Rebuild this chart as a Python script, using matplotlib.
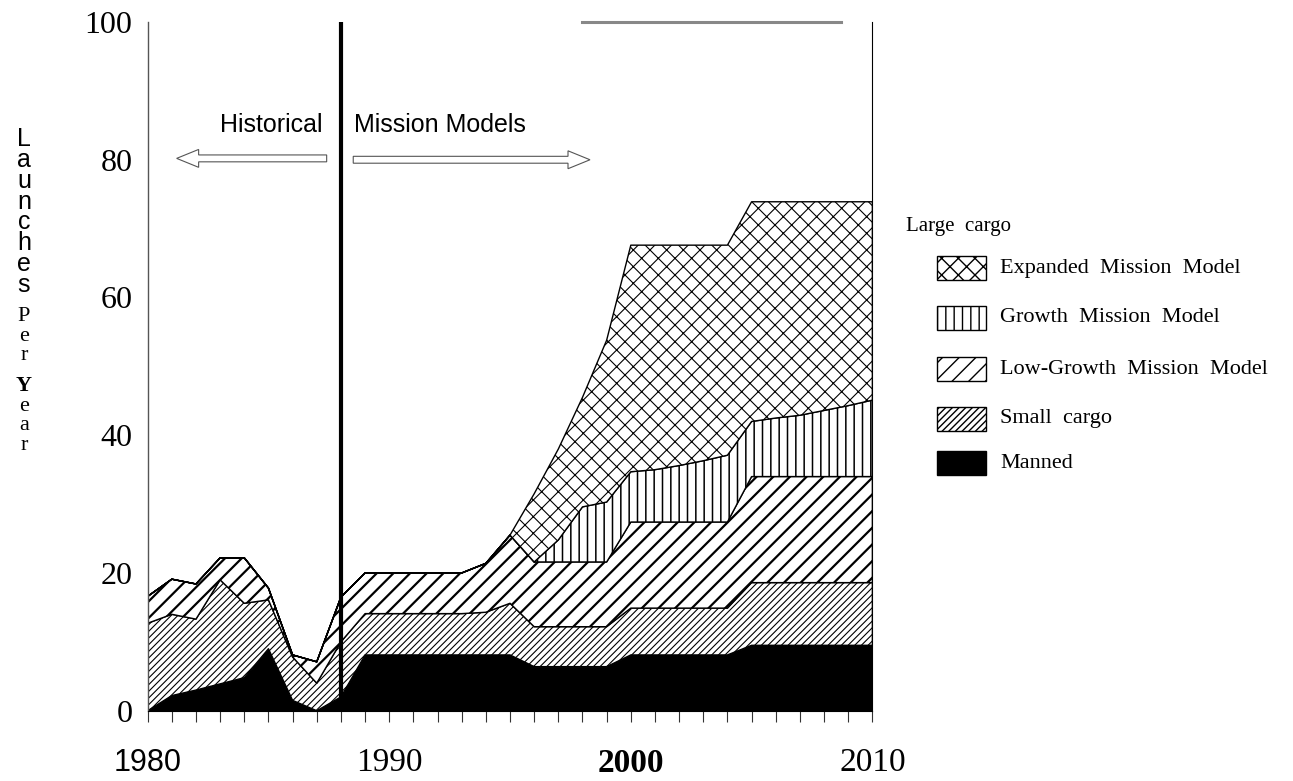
import numpy as np
import matplotlib.pyplot as plt
from matplotlib.patches import Rectangle, FancyArrow

plt.rcParams["mathtext.fontset"] = "custom"
plt.rcParams["mathtext.rm"] = "Liberation Serif"
plt.rcParams["mathtext.bf"] = "Liberation Serif:bold"

# Данные (запуски в год по категориям, значения слоёв)
years = np.arange(1980, 2011)
manned = [0.0, 2.2, 3.0, 3.9, 4.8, 9.0, 1.5, 0.0, 2.0, 8.1,
          8.1, 8.1, 8.1, 8.1, 8.1, 8.1, 6.4, 6.4, 6.4, 6.4,
          8.1, 8.1, 8.1, 8.1, 8.1, 9.5, 9.5, 9.5, 9.5, 9.5, 9.5]
small_cargo = [12.7, 11.8, 10.3, 15.1, 10.8, 7.1, 6.3, 4.0, 8.0, 6.0,
               6.0, 6.0, 6.0, 6.0, 6.2, 7.5, 5.8, 5.8, 5.8, 5.8,
               6.8, 6.8, 6.8, 6.8, 6.8, 9.1, 9.1, 9.1, 9.1, 9.1, 9.1]
low_growth = [3.9, 5.1, 5.1, 3.2, 6.6, 1.7, 0.3, 3.1, 6.5, 5.9,
              5.9, 5.9, 5.9, 5.9, 7.1, 9.9, 9.4, 9.4, 9.4, 9.4,
              12.5, 12.5, 12.5, 12.5, 12.5, 15.4, 15.4, 15.4, 15.4, 15.4, 15.4]
growth = [0.0, 0.0, 0.0, 0.0, 0.0, 0.0, 0.0, 0.0, 0.0, 0.0,
          0.0, 0.0, 0.0, 0.0, 0.0, 0.0, 0.0, 3.2, 8.0, 8.7,
          7.3, 7.6, 8.2, 8.9, 9.7, 8.0, 8.5, 8.9, 9.6, 10.3, 11.1]
expanded = [0.0, 0.0, 0.0, 0.0, 0.0, 0.0, 0.0, 0.0, 0.0, 0.0,
            0.0, 0.0, 0.0, 0.0, 0.0, 0.0, 9.9, 13.2, 15.9, 23.5,
            32.9, 32.6, 32.0, 31.3, 30.5, 31.9, 31.4, 31.0, 30.3, 29.6, 28.8]

year_labels = ["1980", "1990", "2000", "2010"]
y_ticks = [0, 20, 40, 60, 80, 100]

legend_title = "Large  cargo"
legend_labels = ["Expanded  Mission  Model", "Growth  Mission  Model",
                 "Low-Growth  Mission  Model", "Small  cargo", "Manned"]

series = [manned, small_cargo, low_growth, growth, expanded]
hatches = [None, "/////", "//", "||", "xx"]
faces = ["black", "white", "white", "white", "white"]
hatch_lw = [1.0, 0.8, 1.6, 1.1, 0.8]

fig = plt.figure(figsize=(12.93, 7.81), dpi=100)
ax = fig.add_axes([0.1142, 0.0900, 0.5605, 0.8818])

polys = ax.stackplot(years, *series, colors=faces, hatch=hatches,
                     edgecolor="black", linewidth=1.0)
for p, lw in zip(polys, hatch_lw):
    if hasattr(p, "set_hatch_linewidth"):
        p.set_hatch_linewidth(lw)

ax.set_xlim(1980, 2010)
ax.set_ylim(0, 100)

# граница исторических данных
ax.axvline(1988, color="black", lw=3)

# оси
ax.spines["top"].set_visible(False)
ax.spines["left"].set_color("#555555")
ax.spines["left"].set_linewidth(1.0)
ax.spines["right"].set_color("black")
ax.spines["right"].set_linewidth(0.8)
ax.plot([1998.0, 2008.7], [100, 100], color="#888888", lw=2.2, clip_on=False)

ax.set_xticks(years)
ax.set_xticklabels([])
ax.tick_params(axis="x", direction="out", length=8, width=0.8, color="#333333")
ax.set_yticks(y_ticks)
ax.set_yticklabels([str(v) for v in y_ticks], family="Liberation Serif", fontsize=23)
ax.tick_params(axis="y", length=0, pad=11)

# подписи годов
label_fonts = [("Liberation Sans", "normal", 22), ("Liberation Serif", "normal", 24),
               ("Liberation Serif", "bold", 24), ("Liberation Serif", "normal", 24)]
for lab, (fam, wt, fs) in zip(year_labels, label_fonts):
    ax.text(int(lab), -0.076, lab, transform=ax.get_xaxis_transform(),
            ha="center", va="center", family=fam, fontweight=wt, fontsize=fs)

# подпись оси Y (буквы столбиком)
xl = 24 / 1293
fig.text(xl, 1 - 212 / 781, "\n".join("Launches"), ha="center", va="center",
         multialignment="center", family="Liberation Sans", fontsize=18,
         linespacing=0.84)
fig.text(xl, 1 - 336 / 781, "\n".join("Per"), ha="center", va="center",
         multialignment="center", family="Liberation Serif", fontsize=16,
         linespacing=1.03)
fig.text(xl, 1 - 416 / 781, "$\\mathbf{Y}$\ne\na\nr", ha="center", va="center",
         multialignment="center", family="Liberation Serif", fontsize=16,
         linespacing=1.03)

# стрелки и надписи
ax.text(1985.1, 85.0, "Historical", ha="center", va="center",
        family="Liberation Sans", fontsize=18)
ax.text(1988.55, 85.0, "Mission Models", ha="left", va="center",
        family="Liberation Sans", fontsize=18)
ax.add_patch(FancyArrow(1987.41, 80.2, -6.21, 0, width=1.0, head_width=2.6,
                        head_length=0.91, length_includes_head=True,
                        fc="white", ec="#555555", lw=0.8))
ax.add_patch(FancyArrow(1988.51, 80.0, 9.8, 0, width=1.0, head_width=2.6,
                        head_length=0.91, length_includes_head=True,
                        fc="white", ec="#555555", lw=0.8))

# легенда
fig.text(906 / 1293, 1 - 227 / 781, legend_title, ha="left", va="center",
         family="Liberation Serif", fontsize=15)
leg_y = [268, 318, 369, 419, 463]
leg_hatch = ["xx", "||", "//", "/////", None]
leg_face = ["white", "white", "white", "white", "black"]
for lab, yp, h, fc in zip(legend_labels, leg_y, leg_hatch, leg_face):
    r = Rectangle((937 / 1293, 1 - (yp + 12) / 781), 49 / 1293, 24 / 781,
                  transform=fig.transFigure, facecolor=fc, edgecolor="black",
                  hatch=h, lw=1.0)
    fig.add_artist(r)
    fig.text(1000 / 1293, 1 - yp / 781, lab, ha="left", va="center",
             family="Liberation Serif", fontsize=16)

plt.savefig("out.png", dpi=100)
